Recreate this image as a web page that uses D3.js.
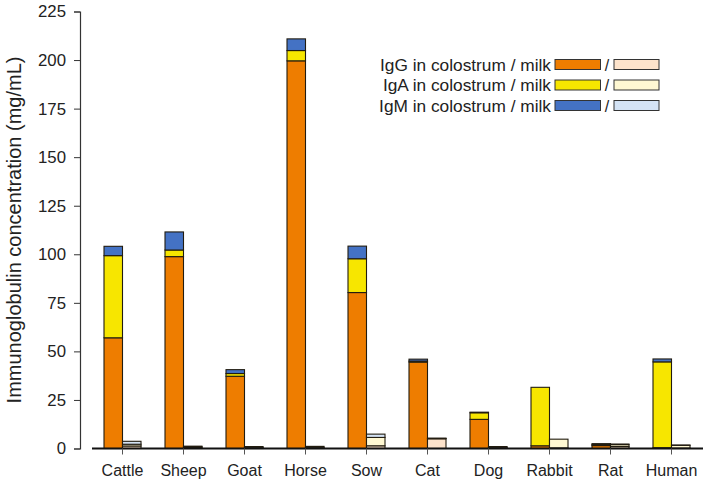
<!DOCTYPE html>
<html><head><meta charset="utf-8">
<script src="https://cdn.jsdelivr.net/npm/d3@7"></script>
<style>body{margin:0;background:#fff}svg{display:block;font-family:"Liberation Sans",Arial,sans-serif}</style>
</head><body><svg id="c" width="705" height="486"></svg>
<script>
const categories = ["Cattle","Sheep","Goat","Horse","Sow","Cat","Dog","Rabbit","Rat","Human"];
const colIgG  = [57, 98.8, 37.2, 199.6, 80.3, 44.5, 15, 1.4, 1.5, 0.4];
const colIgA  = [42.3, 3.4, 1.4, 5.3, 17.4, 0.5, 3.4, 30.1, 0.5, 44.2];
const colIgM  = [4.8, 9.3, 2, 6, 6.5, 1, 0.3, 0, 0.5, 1.5];
const milkIgG = [1.3, 0.5, 0.4, 0.4, 1.4, 5.0, 0.4, 0.3, 1.0, 0.2];
const milkIgA = [0.9, 0.4, 0.3, 0.3, 4.3, 0.2, 0.3, 4.5, 1.0, 1.4];
const milkIgM = [1.5, 0.3, 0.3, 0.4, 1.7, 0.1, 0.3, 0, 0.3, 0.2];
const yTicks  = [0,25,50,75,100,125,150,175,200,225];
const legendLabels = ["IgG in colostrum / milk","IgA in colostrum / milk","IgM in colostrum / milk"];
const darkColors  = ["#EE7D00","#F7E600","#4472C4"];
const lightColors = ["#FDE3CB","#FFF8D2","#D4E3F5"];

const svg = d3.select("#c");
const x = d3.scaleBand().domain(categories).range([92, 702]).padding(0);
const y = d3.scaleLinear().domain([0,225]).range([448.5, 11.5]);
const bw = 18.5;

// Y axis
const yAxis = svg.append("g").attr("transform","translate(80,0)")
  .call(d3.axisLeft(y).tickValues(yTicks).tickSize(6).tickPadding(8));
yAxis.select(".domain").attr("stroke","#333").attr("stroke-width",1.2);
yAxis.selectAll(".tick line").attr("stroke","#333");
yAxis.selectAll(".tick text").attr("font-size","16.8px").attr("fill","#222").attr("font-family","Liberation Sans, Arial, sans-serif");

svg.append("text").attr("transform","translate(21,230) rotate(-90)")
  .attr("text-anchor","middle").attr("font-size","20px").attr("fill","#222")
  .text("Immunoglobulin concentration (mg/mL)");

// bars
const groups = [
  {vals:[colIgG,colIgA,colIgM], colors:darkColors, off:-bw},
  {vals:[milkIgG,milkIgA,milkIgM], colors:lightColors, off:0}
];
groups.forEach(g=>{
  categories.forEach((c,i)=>{
    let base = 0;
    g.vals.forEach((arr,k)=>{
      const v = arr[i];
      if(v<=0) return;
      svg.append("rect")
        .attr("x", x(c)+x.bandwidth()/2 + g.off)
        .attr("y", y(base+v))
        .attr("width", bw)
        .attr("height", y(base)-y(base+v))
        .attr("fill", g.colors[k])
        .attr("stroke","#221c10").attr("stroke-width",1.1);
      base += v;
    });
  });
});

// X axis
const xAxis = svg.append("g").attr("transform","translate(0,448.5)")
  .call(d3.axisBottom(x).tickSize(6).tickPadding(10).tickSizeOuter(0));
xAxis.select(".domain").attr("d","M92,0H703").attr("stroke","#111").attr("stroke-width",2);
xAxis.selectAll(".tick line").attr("stroke","#555");
xAxis.selectAll(".tick text").attr("font-size","16px").attr("fill","#222").attr("font-family","Liberation Sans, Arial, sans-serif");

// legend
const leg = svg.append("g");
legendLabels.forEach((t,i)=>{
  const cy = 64.5 + i*20.5;
  leg.append("text").attr("x",551).attr("y",cy+6).attr("text-anchor","end")
    .attr("font-size","17.3px").attr("fill","#222").text(t);
  leg.append("rect").attr("x",555).attr("y",cy-5).attr("width",45.5).attr("height",10)
    .attr("fill",darkColors[i]).attr("stroke","#333").attr("stroke-width",1);
  leg.append("text").attr("x",607).attr("y",cy+6).attr("text-anchor","middle")
    .attr("font-size","16px").attr("fill","#222").text("/");
  leg.append("rect").attr("x",614).attr("y",cy-5).attr("width",45).attr("height",10)
    .attr("fill",lightColors[i]).attr("stroke","#333").attr("stroke-width",1);
});
</script></body></html>
